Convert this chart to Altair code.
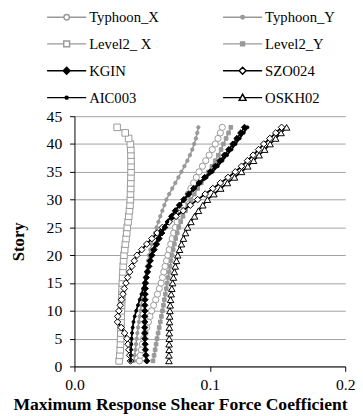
import altair as alt
import pandas as pd

stories = list(range(1, 44))
series_names = ["Typhoon_X", "Typhoon_Y", "Level2_ X", "Level2_Y",
                "KGIN", "SZO024", "AIC003", "OSKH02"]

typhoon_x = [0.0480, 0.0487, 0.0495, 0.0502, 0.0510, 0.0522, 0.0534, 0.0546, 0.0558, 0.0570,
             0.0585, 0.0600, 0.0613, 0.0627, 0.0640, 0.0650, 0.0660, 0.0670, 0.0680, 0.0690,
             0.0700, 0.0711, 0.0722, 0.0733, 0.0745, 0.0758, 0.0772, 0.0787, 0.0803, 0.0820,
             0.0840, 0.0860, 0.0880, 0.0900, 0.0920, 0.0945, 0.0970, 0.0995, 0.1018, 0.1040,
             0.1060, 0.1078, 0.1092]
typhoon_y = [0.0440, 0.0445, 0.0450, 0.0455, 0.0460, 0.0465, 0.0470, 0.0476, 0.0482, 0.0488,
             0.0494, 0.0500, 0.0505, 0.0510, 0.0515, 0.0522, 0.0529, 0.0536, 0.0543, 0.0550,
             0.0560, 0.0571, 0.0582, 0.0594, 0.0606, 0.0620, 0.0634, 0.0649, 0.0664, 0.0679,
             0.0700, 0.0722, 0.0745, 0.0768, 0.0790, 0.0812, 0.0834, 0.0853, 0.0870, 0.0884,
             0.0897, 0.0907, 0.0915]
level2_x = [0.0330, 0.0335, 0.0338, 0.0340, 0.0341, 0.0342, 0.0343, 0.0344, 0.0345, 0.0346,
            0.0348, 0.0349, 0.0350, 0.0352, 0.0354, 0.0356, 0.0358, 0.0360, 0.0363, 0.0366,
            0.0371, 0.0376, 0.0381, 0.0386, 0.0390, 0.0396, 0.0401, 0.0406, 0.0410, 0.0413,
            0.0414, 0.0415, 0.0416, 0.0417, 0.0418, 0.0418, 0.0418, 0.0417, 0.0416, 0.0413,
            0.0400, 0.0375, 0.0315]
level2_y = [0.0580, 0.0588, 0.0596, 0.0603, 0.0610, 0.0618, 0.0626, 0.0634, 0.0642, 0.0650,
            0.0657, 0.0664, 0.0671, 0.0678, 0.0685, 0.0692, 0.0699, 0.0706, 0.0713, 0.0720,
            0.0729, 0.0738, 0.0748, 0.0759, 0.0770, 0.0785, 0.0802, 0.0820, 0.0840, 0.0860,
            0.0885, 0.0910, 0.0937, 0.0963, 0.0990, 0.1015, 0.1040, 0.1063, 0.1083, 0.1100,
            0.1120, 0.1138, 0.1155]
kgin = [0.0534, 0.0528, 0.0524, 0.0522, 0.0520, 0.0519, 0.0519, 0.0519, 0.0519, 0.0520,
        0.0520, 0.0521, 0.0522, 0.0523, 0.0525, 0.0531, 0.0540, 0.0550, 0.0560, 0.0572,
        0.0588, 0.0606, 0.0625, 0.0645, 0.0667, 0.0692, 0.0718, 0.0745, 0.0775, 0.0808,
        0.0843, 0.0880, 0.0920, 0.0962, 0.1004, 0.1040, 0.1075, 0.1108, 0.1140, 0.1170,
        0.1200, 0.1228, 0.1256]
szo024 = [0.0414, 0.0408, 0.0402, 0.0396, 0.0388, 0.0370, 0.0345, 0.0318, 0.0320, 0.0328,
          0.0338, 0.0348, 0.0358, 0.0368, 0.0380, 0.0393, 0.0408, 0.0424, 0.0442, 0.0462,
          0.0497, 0.0534, 0.0572, 0.0611, 0.0650, 0.0700, 0.0751, 0.0803, 0.0856, 0.0910,
          0.0966, 0.1022, 0.1078, 0.1134, 0.1188, 0.1234, 0.1278, 0.1320, 0.1360, 0.1398,
          0.1443, 0.1487, 0.1530]
aic003 = [0.0414, 0.0416, 0.0418, 0.0420, 0.0422, 0.0425, 0.0430, 0.0436, 0.0445, 0.0456,
          0.0469, 0.0482, 0.0495, 0.0507, 0.0518, 0.0527, 0.0536, 0.0545, 0.0554, 0.0565,
          0.0580, 0.0597, 0.0616, 0.0637, 0.0660, 0.0686, 0.0713, 0.0742, 0.0775, 0.0810,
          0.0847, 0.0887, 0.0930, 0.0975, 0.1020, 0.1058, 0.1093, 0.1127, 0.1160, 0.1190,
          0.1220, 0.1250, 0.1278]
oskh02 = [0.0698, 0.0698, 0.0699, 0.0699, 0.0700, 0.0700, 0.0701, 0.0702, 0.0703, 0.0705,
          0.0707, 0.0710, 0.0714, 0.0719, 0.0725, 0.0731, 0.0738, 0.0745, 0.0754, 0.0763,
          0.0776, 0.0790, 0.0805, 0.0820, 0.0835, 0.0860, 0.0887, 0.0916, 0.0948, 0.0982,
          0.1030, 0.1080, 0.1130, 0.1182, 0.1234, 0.1280, 0.1323, 0.1364, 0.1405, 0.1445,
          0.1486, 0.1526, 0.1567]

all_values = [typhoon_x, typhoon_y, level2_x, level2_y, kgin, szo024, aic003, oskh02]

x_ticks = [0.0, 0.1, 0.2]
y_ticks = list(range(0, 46, 5))

rows = []
for order, (name, vals) in enumerate(zip(series_names, all_values)):
    for s, v in zip(stories, vals):
        rows.append({"series": name, "story": s, "coef": v, "k": order})
df = pd.DataFrame(rows)

GRAY = "#999999"
BLACK = "#000000"
FONT = "Liberation Serif"

line_colors = [GRAY, GRAY, GRAY, GRAY, BLACK, BLACK, BLACK, BLACK]
line_widths = [1.5, 1.5, 1.5, 1.5, 1.8, 1.8, 1.8, 1.8]
marker_shapes = ["circle", "circle", "square", "square", "diamond", "diamond", "circle", "triangle-up"]
marker_fills = ["white", GRAY, "white", GRAY, BLACK, "white", BLACK, "white"]
marker_sizes = [40, 12, 45, 14, 40, 45, 9, 45]

# legend symbol geometry: symbol size 225 -> 7.5 px per path unit
U = 7.5
L0 = -1.0
L1 = 40.0 / U - 1.0
CX = 20.0 / U - 1.0


def f(v):
    return f"{v:.3f}"


def circ(r):
    return (f"M{f(CX - r)},0A{f(r)},{f(r)},0,1,0,{f(CX + r)},0"
            f"A{f(r)},{f(r)},0,1,0,{f(CX - r)},0Z")


def sq(h):
    return f"M{f(CX - h)},{f(-h)}H{f(CX + h)}V{f(h)}H{f(CX - h)}Z"


def dia(d):
    return f"M{f(CX)},{f(-d)}L{f(CX + d)},0L{f(CX)},{f(d)}L{f(CX - d)},0Z"


def tri(t):
    return f"M{f(CX)},{f(-t)}L{f(CX + t)},{f(t * 0.8)}L{f(CX - t)},{f(t * 0.8)}Z"


def gap_line(g):
    return f"M{f(L0)},0H{f(CX - g)}M{f(CX + g)},0H{f(L1)}"


full_line = f"M{f(L0)},0H{f(L1)}"
legend_paths = [
    gap_line(2.8 / U) + circ(2.8 / U),
    full_line + circ(1.8 / U),
    gap_line(3.0 / U) + sq(3.0 / U),
    full_line + sq(2.0 / U),
    full_line + dia(3.5 / U),
    gap_line(3.5 / U) + dia(3.5 / U),
    full_line + circ(1.5 / U),
    gap_line(2.8 / U) + tri(3.5 / U),
]

X = alt.X("coef:Q",
          scale=alt.Scale(domain=[0, 0.2], nice=False, zero=True),
          axis=alt.Axis(values=x_ticks, format=".1f", grid=False,
                        title="Maximum Response Shear Force Coefficient",
                        titleX=108, titleY=44, titleAlign="center",
                        titleBaseline="alphabetic", labelFlush=False,
                        tickSize=5, labelPadding=6,
                        labelFont=FONT, labelFontSize=16, labelColor="black",
                        titleFont=FONT, titleFontSize=18, titleFontWeight="bold",
                        titleColor="black"))
Y = alt.Y("story:Q",
          scale=alt.Scale(domain=[0, 45], nice=False),
          axis=alt.Axis(values=y_ticks, grid=True, title="Story",
                        titleX=-52, titleY=128, titleAngle=-90,
                        titleAlign="center", titleBaseline="alphabetic",
                        tickSize=5, labelPadding=8,
                        labelFont=FONT, labelFontSize=16, labelColor="black",
                        titleFont=FONT, titleFontSize=17, titleFontWeight="bold",
                        titleColor="black"))

layers = []
for i, name in enumerate(series_names):
    base = alt.Chart(df).transform_filter(alt.datum.series == name)
    layers.append(
        base.mark_line(color=line_colors[i], strokeWidth=line_widths[i]).encode(
            x=X, y=Y, order=alt.Order("story:Q"))
    )
    layers.append(
        base.mark_point(shape=marker_shapes[i], size=marker_sizes[i], filled=True,
                        fill=marker_fills[i], stroke=line_colors[i], strokeWidth=1,
                        opacity=1).encode(x=X, y=Y)
    )

leg = alt.Legend(title=None, orient="none", legendX=-29, legendY=-110, columns=2,
                 direction="horizontal",
                 columnPadding=62, rowPadding=10.5, symbolSize=U * U * 4,
                 symbolStrokeWidth=1.5, symbolOpacity=1, labelFont=FONT,
                 labelFontSize=15, labelColor="black", labelOffset=27, padding=0)

legend_layer = alt.Chart(df).transform_filter(alt.datum.story < 0).mark_point(
    filled=True, opacity=1).encode(
    x=X, y=Y,
    shape=alt.Shape("series:N", scale=alt.Scale(domain=series_names, range=legend_paths), legend=leg),
    fill=alt.Fill("series:N", scale=alt.Scale(domain=series_names, range=marker_fills), legend=leg),
    stroke=alt.Stroke("series:N", scale=alt.Scale(domain=series_names, range=line_colors), legend=leg),
)

chart = alt.layer(*layers, legend_layer).properties(
    width=277, height=256,
    autosize=alt.AutoSizeParams(type="none"),
    padding={"left": 68, "top": 106, "right": 10, "bottom": 46},
).configure_view(stroke=None).configure_axis(
    domainColor="black", domainWidth=1, tickColor="black", tickWidth=1,
    gridColor="#a0a0a0", gridWidth=1,
)

chart.save("out.html", embed_options={"renderer": "svg", "actions": False})
